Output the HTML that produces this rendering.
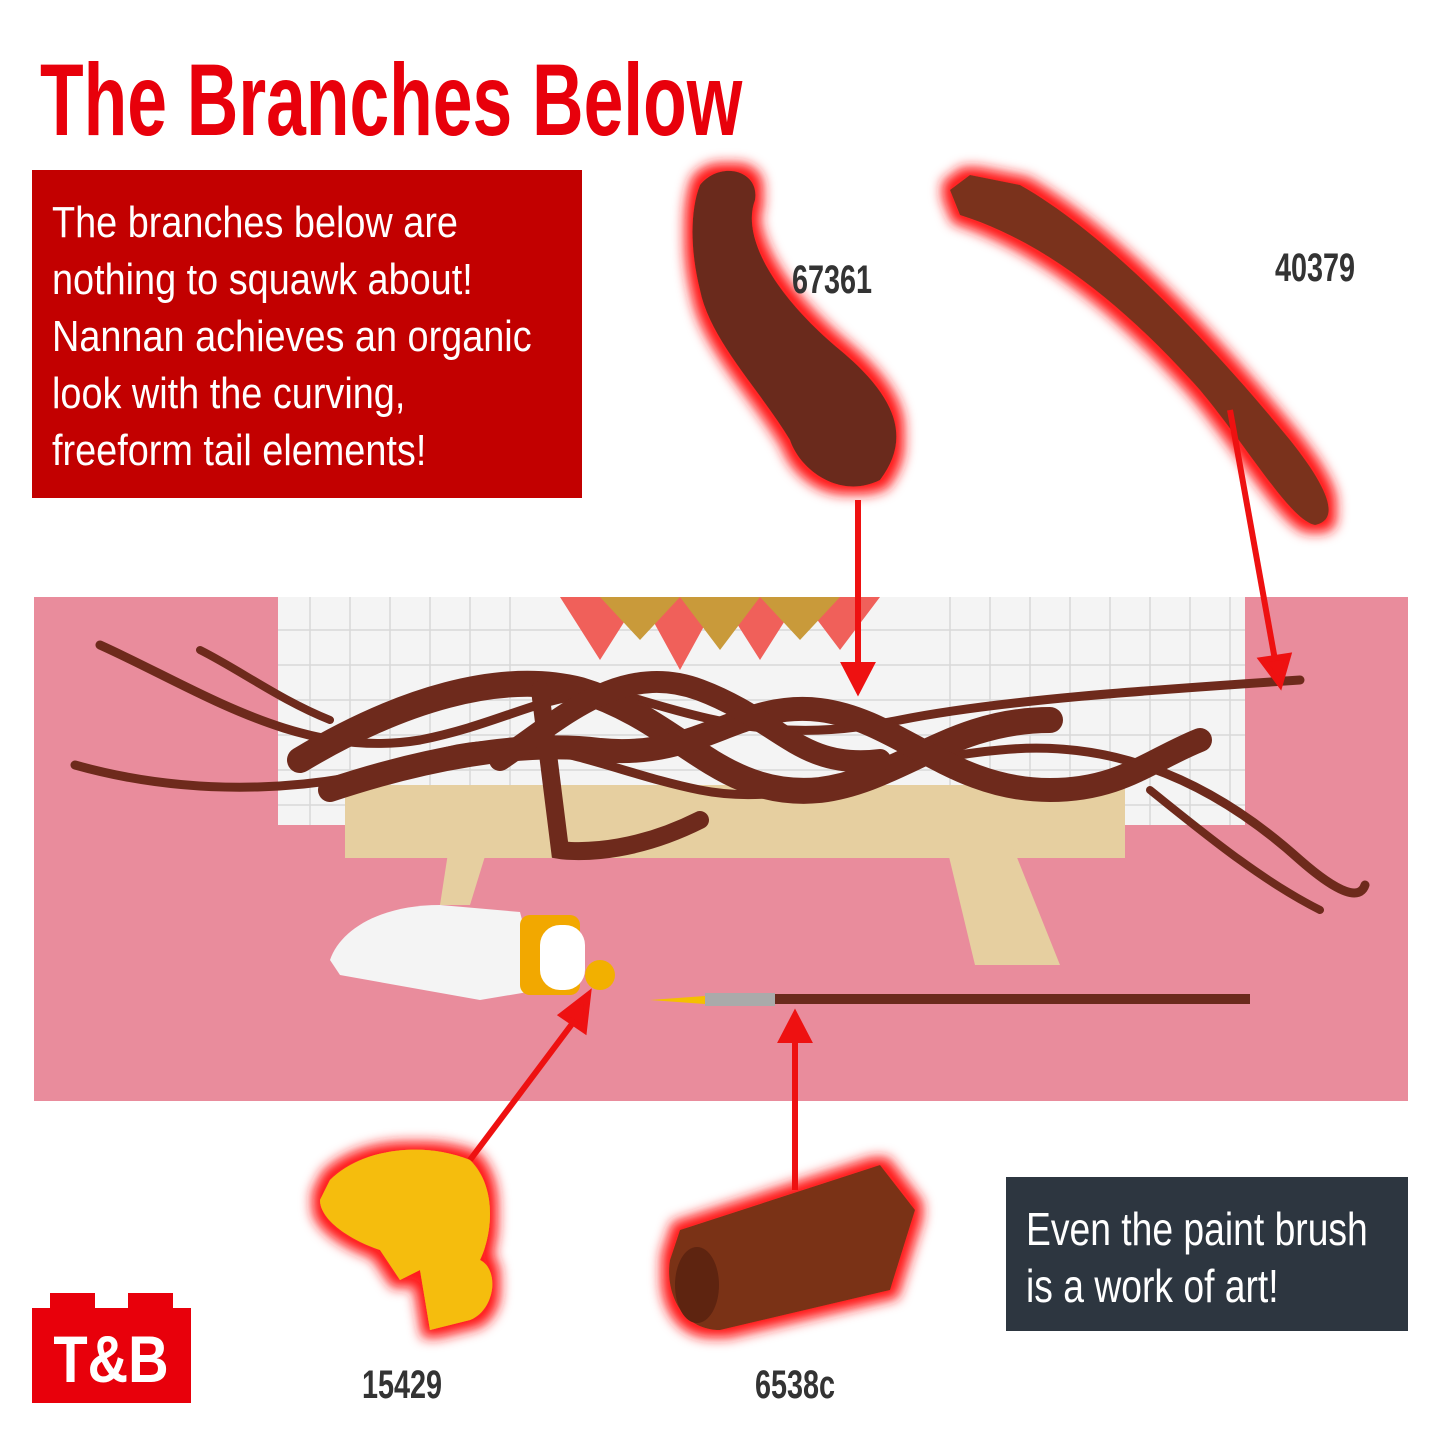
<!DOCTYPE html>
<html><head><meta charset="utf-8"><style>
body{margin:0;width:1440px;height:1440px;background:#fff;position:relative;overflow:hidden;font-family:"Liberation Sans",sans-serif}
.t{position:absolute;left:40px;top:42px;font-size:102px;font-weight:bold;color:#e8000b;white-space:nowrap;transform:scaleX(0.70);transform-origin:left}
.rb{position:absolute;left:32px;top:170px;width:550px;height:328px;background:#c20000;color:#fff;overflow:hidden}
.rb div{position:absolute;left:20px;top:24px;font-size:44px;line-height:57px;white-space:nowrap;transform:scaleX(0.86);transform-origin:left top}
.db{position:absolute;left:1006px;top:1177px;width:402px;height:154px;background:#2d3640;color:#fff;overflow:hidden}
.db div{position:absolute;left:20px;top:24px;font-size:46px;line-height:57px;white-space:nowrap;transform:scaleX(0.81);transform-origin:left top}
.lab{position:absolute;font-size:40px;color:#333;font-weight:bold;transform:translateX(-50%) scaleX(0.72);white-space:nowrap}
</style></head><body>
<div class="t">The Branches Below</div>
<div class="rb"><div>The branches below are<br>nothing to squawk about!<br>Nannan achieves an organic<br>look with the curving,<br>freeform tail elements!</div></div>
<svg width="1440" height="1440" style="position:absolute;left:0;top:0">
<defs><filter id="g" x="-30%" y="-30%" width="160%" height="160%"><feMorphology in="SourceAlpha" operator="dilate" radius="8" result="d"/><feGaussianBlur in="d" stdDeviation="6" result="b"/><feFlood flood-color="#ff1a1a"/><feComposite in2="b" operator="in" result="r"/><feMerge><feMergeNode in="r"/><feMergeNode in="SourceGraphic"/></feMerge></filter></defs>
<rect x="34" y="597" width="1374" height="504" fill="#e98c9c"/>
<rect x="278" y="597" width="967" height="228" fill="#f4f4f4"/>
<g stroke="#d8d8d8" stroke-width="1.5">
<path d="M278 630H1245M278 665H1245M278 700H1245M278 735H1245M278 770H1245M278 805H1245"/>
<path d="M310 597V825M350 597V825M390 597V825M430 597V825M470 597V825M510 597V825M950 597V825M990 597V825M1030 597V825M1070 597V825M1110 597V825M1150 597V825M1190 597V825M1230 597V825"/>
</g>
<path d="M560 597L600 660L640 597L680 670L720 597L760 660L800 597L840 650L880 597L900 597Z" fill="#f0605a"/>
<path d="M600 597L640 640L680 597L720 650L760 597L800 640L840 597Z" fill="#c99a3a"/>
<path d="M345 785H1125V858H345Z" fill="#e6cfa0"/>
<path d="M450 840L490 840L470 905H440Z" fill="#e6cfa0"/>
<path d="M945 840H1010L1060 965H975Z" fill="#e6cfa0"/>
<g fill="none" stroke="#6e2a1c" stroke-linecap="round">
<path d="M100 645C200 690 300 760 420 740C520 720 560 680 640 700C740 730 800 740 900 720C1000 700 1150 690 1300 680" stroke-width="9"/>
<path d="M75 765C200 800 330 790 420 760C520 720 600 770 700 790C800 810 880 760 1000 750C1100 740 1200 770 1300 860C1340 895 1360 900 1365 885" stroke-width="9"/>
<path d="M300 760C400 700 500 670 580 690C680 720 720 800 820 790C900 780 950 720 1050 720" stroke-width="26"/>
<path d="M330 790C420 760 520 740 600 750C700 760 740 700 820 710C900 720 950 790 1050 790C1120 790 1150 760 1200 740" stroke-width="24"/>
<path d="M500 760C560 720 620 660 700 690C780 720 800 770 880 760" stroke-width="22"/>
<path d="M200 650C240 670 280 700 330 720M1150 790C1200 830 1260 880 1320 910" stroke-width="8"/>
<path d="M540 690L560 850C560 850 620 860 700 820" stroke-width="18"/>
</g>
<path d="M330 960C340 930 380 905 440 905L520 912L540 990L480 1000L340 975Z" fill="#f4f4f4"/>
<rect x="520" y="915" width="60" height="80" rx="10" fill="#f2a800"/>
<rect x="540" y="925" width="45" height="65" rx="20" fill="#fff"/>
<circle cx="600" cy="975" r="15" fill="#f2b000"/>
<path d="M650 1000L705 996V1004Z" fill="#f5c000"/>
<rect x="705" y="993" width="70" height="13" fill="#aaa"/>
<rect x="775" y="994" width="475" height="10" fill="#6b2a1c"/>
<g filter="url(#g)">
<path d="M700 185C720 160 760 170 755 200C740 240 780 300 840 350C900 400 910 440 880 480C840 500 800 470 790 440C760 390 710 340 700 290C690 250 690 210 700 185Z" fill="#6b2b1c"/>
<path d="M950 190L970 175L1020 185C1100 230 1200 330 1290 440C1330 490 1340 520 1315 525C1290 520 1250 450 1200 390C1120 300 1040 240 960 215Z" fill="#7a321e"/>
<path d="M330 1180C360 1150 420 1140 470 1160C500 1190 490 1240 480 1260C500 1270 495 1310 470 1320L430 1330L420 1270L400 1280L380 1250C350 1240 320 1220 320 1200Z" fill="#f5bd10"/>
<path d="M680 1230L880 1165L915 1210L890 1290L720 1330C680 1330 665 1290 670 1260Z" fill="#7a3218"/>
</g>
<ellipse cx="697" cy="1285" rx="22" ry="38" fill="#5e2410"/>
<g stroke="#ee1111" stroke-width="6" fill="#ee1111">
<line x1="858" y1="500" x2="858" y2="670"/><path d="M845 665L858 690L871 665Z"/>
<line x1="1230" y1="410" x2="1275" y2="660"/><path d="M1262 660L1280 684L1288 656Z"/>
<line x1="470" y1="1160" x2="575" y2="1020"/><path d="M562 1015L588 995L584 1030Z"/>
<line x1="795" y1="1190" x2="795" y2="1035"/><path d="M782 1040L795 1015L808 1040Z"/>
</g>
<rect x="50" y="1293" width="45" height="18" fill="#e8000b"/><rect x="128" y="1293" width="45" height="18" fill="#e8000b"/>
<rect x="32" y="1308" width="159" height="95" fill="#e8000b"/>
<text x="111" y="1382" text-anchor="middle" font-family="Liberation Sans,sans-serif" font-weight="bold" font-size="66" fill="#fff" transform="translate(111 0) scale(0.85 1) translate(-111 0)">T&amp;B</text>
</svg>
<div class="lab" style="left:832px;top:258px">67361</div>
<div class="lab" style="left:1315px;top:246px">40379</div>
<div class="lab" style="left:402px;top:1363px">15429</div>
<div class="lab" style="left:795px;top:1363px">6538c</div>
<div class="db"><div>Even the paint brush<br>is a work of art!</div></div>
</body></html>
